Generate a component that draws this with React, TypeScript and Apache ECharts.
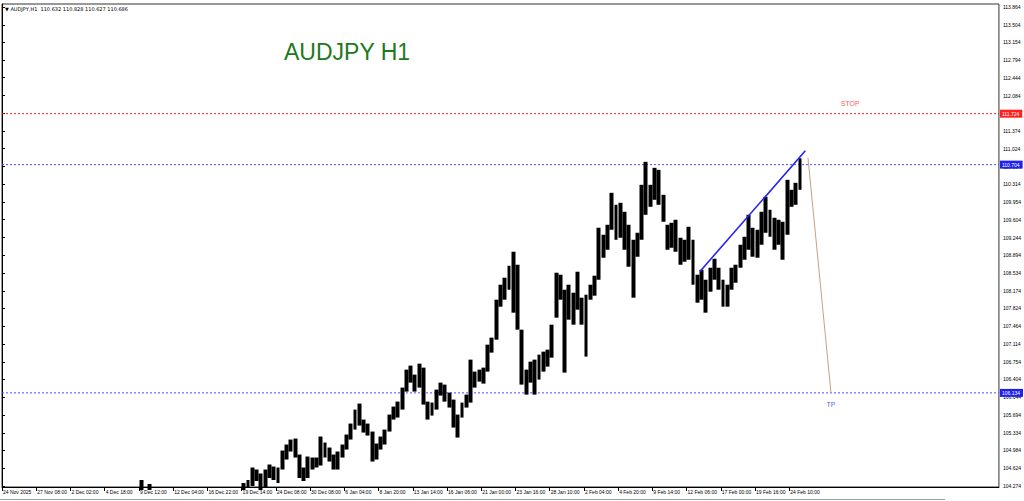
import React, { useEffect, useRef } from "react";
import * as echarts from "echarts";

// ---- data ----
const symbolTitle = "AUDJPY H1";
const headerText = "\u25BC AUDJPY,H1  110.632 110.828 110.627 110.686";

const xLabels = [
  "24 Nov 2025", "27 Nov 08:00", "2 Dec 02:00", "4 Dec 18:00", "9 Dec 12:00", "12 Dec 04:00",
  "16 Dec 22:00", "19 Dec 14:00", "24 Dec 08:00", "30 Dec 08:00", "6 Jan 04:00", "8 Jan 20:00",
  "13 Jan 14:00", "16 Jan 06:00", "21 Jan 00:00", "23 Jan 16:00", "28 Jan 10:00", "2 Feb 04:00",
  "4 Feb 20:00", "9 Feb 14:00", "12 Feb 06:00", "17 Feb 00:00", "19 Feb 16:00", "24 Feb 10:00",
];
const barsPerLabel = 64;
const barsPerBucket = 8;
const bucketCount = 233;
const firstBucket = 32;

const yTicks = [
  104.274, 104.624, 104.984, 105.334, 105.694, 106.044, 106.404, 106.754, 107.114, 107.464,
  107.824, 108.174, 108.534, 108.894, 109.244, 109.604, 109.954, 110.314, 110.664, 111.024,
  111.374, 111.734, 112.084, 112.444, 112.794, 113.154, 113.504, 113.864,
];

// highs / lows per bucket of 8 H1 bars, starting at bucket 32 (null = below the visible scale)
const highs = [
  104.39, null, 104.31, null, null, null, null, null, null, null, null, null, null, null, null, null,
  null, null, null, null, null, null, null, null,
  104.33, 104.39, 104.64, 104.60, 104.52, 104.60, 104.70, 104.66, 104.64, 104.98,
  105.10, 105.20, 105.22, 104.90, 104.64, 104.86, 104.84, 104.84, 105.26, 105.14,
  105.04, 104.90, 104.96, 105.10, 105.30, 105.52, 105.80, 105.92, 105.60, 105.52,
  105.36, 105.12, 105.26, 105.40, 105.70, 105.86, 105.96, 106.24, 106.60, 106.68,
  106.50, 106.72, 106.64, 105.96, 105.94, 106.20, 106.34, 106.30, 106.14, 106.00,
  105.70, 105.94, 106.10, 106.80, 106.56, 106.60, 106.64, 107.10, 107.24, 108.00,
  108.30, 108.44, 108.68, 108.96, 108.70, 107.40, 106.60, 106.76, 106.80, 106.90,
  106.96, 107.00, 107.50, 108.54, 108.50, 108.20, 108.30, 108.14, 108.56, 108.04,
  108.10, 108.30, 108.48, 109.44, 109.30, 109.50, 110.14, 109.90, 109.94, 109.76,
  109.50, 109.20, 109.34, 110.30, 110.76, 110.30, 110.64, 110.60, 110.10, 109.50,
  109.54, 109.60, 109.24, 109.20, 109.46, 109.20, 108.50, 108.60, 108.40, 108.64,
  108.82, 108.64, 108.40, 108.30, 108.64, 108.70, 109.10, 109.26, 109.70, 109.44,
  109.40, 109.76, 110.06, 109.80, 109.64, 109.60, 109.56, 110.40, 110.20, 110.34,
  110.83,
];
const lows = [
  104.19, null, 104.19, null, null, null, null, null, null, null, null, null, null, null, null, null,
  null, null, null, null, null, null, null, null,
  104.19, 104.23, 104.27, 104.37, 104.19, 104.23, 104.43, 104.39, 104.33, 104.60,
  104.80, 104.96, 104.84, 104.43, 104.37, 104.43, 104.60, 104.64, 104.68, 104.84,
  104.76, 104.60, 104.60, 104.84, 105.00, 105.20, 105.40, 105.48, 105.34, 105.28,
  104.76, 104.80, 105.00, 105.10, 105.36, 105.60, 105.64, 105.80, 106.16, 106.34,
  106.16, 106.24, 105.90, 105.60, 105.68, 105.80, 106.08, 105.96, 105.84, 105.44,
  105.24, 105.64, 105.84, 105.94, 106.24, 106.36, 106.32, 106.56, 106.94, 107.20,
  107.86, 108.00, 108.20, 107.74, 107.40, 106.30, 106.10, 106.34, 106.10, 106.40,
  106.56, 106.66, 106.84, 107.64, 108.00, 106.54, 107.60, 107.50, 107.80, 107.50,
  106.86, 108.00, 108.08, 108.40, 108.84, 109.00, 109.40, 109.20, 109.24, 109.00,
  108.66, 108.04, 108.86, 109.20, 109.70, 109.86, 110.00, 109.90, 109.56, 109.00,
  109.04, 108.96, 108.70, 108.76, 108.80, 108.30, 107.94, 108.00, 107.74, 108.16,
  108.40, 108.20, 107.86, 107.86, 108.20, 108.34, 108.64, 108.80, 109.00, 108.86,
  108.84, 109.10, 109.34, 109.26, 109.00, 109.10, 108.80, 109.30, 109.86, 109.90,
  110.20,
];

// horizontal levels
const levels = [
  { price: 111.724, line: "#ff1a1a", box: "#ff2020" },
  { price: 110.704, line: "#4d4dff", box: "#2020ee" },
  { price: 106.134, line: "#4d4dff", box: "#2020ee" },
];

// trend lines: [bar index, price]
const trendUp = [[1305, 108.565], [1502, 110.981]];
const projection = [[1507, 110.841], [1550, 106.134]];
const notes = [
  { text: "STOP", bar: 1586, price: 111.922, color: "#ff2a2a" },
  { text: "TP", bar: 1550, price: 105.896, color: "#3030ff" },
];

export default function App() {
  const ref = useRef<HTMLDivElement>(null);
  useEffect(() => {
    if (!ref.current) return;
    const chart = echarts.init(ref.current, null, { renderer: "svg" });
    const totalBars = bucketCount * barsPerBucket;
    const cats = Array.from({ length: bucketCount }, (_, i) => String(i));
    const candles = cats.map((_, i) => {
      const j = i - firstBucket;
      if (j < 0 || j >= highs.length || highs[j] == null) return "-";
      return [lows[j], highs[j], lows[j], highs[j]];
    });
    const labelBars = xLabels.map((_, i) => i * barsPerLabel);
    const font = "Liberation Sans, Arial, sans-serif";

    const levelSeries = levels.map((lv) => ({
      type: "line",
      xAxisIndex: 1,
      data: [[0, lv.price], [totalBars, lv.price]],
      showSymbol: false,
      silent: true,
      z: 3,
      lineStyle: { color: lv.line, type: [2, 2], width: 1 },
      endLabel: {
        show: true,
        formatter: () => lv.price.toFixed(3),
        color: "#fff",
        backgroundColor: lv.box,
        fontSize: 5,
        fontFamily: font,
        padding: [2, 3, 1, 2],
        distance: 1,
      },
    }));

    chart.setOption({
      animation: false,
      backgroundColor: "#ffffff",
      title: {
        text: symbolTitle,
        left: 279,
        top: 35,
        textStyle: { color: "#217821", fontSize: 23, fontWeight: "normal", fontFamily: font },
      },
      graphic: [
        {
          type: "text",
          left: 5,
          top: 6,
          style: { text: headerText, fill: "#000", fontSize: 5, fontFamily: "DejaVu Sans, sans-serif" },
        },
        {
          type: "line",
          shape: { x1: 0, y1: 499.5, x2: 945, y2: 499.5 },
          style: { stroke: "#a0a0a0", lineWidth: 1 },
        },
      ],
      grid: { left: 2, right: 23, top: 4, bottom: 14, show: true, borderColor: "#333", borderWidth: 1 },
      xAxis: [
        { type: "category", data: cats, show: false, boundaryGap: true },
        {
          type: "value",
          min: 0,
          max: totalBars,
          position: "bottom",
          splitLine: { show: false },
          axisLine: { show: true, lineStyle: { color: "#000" } },
          axisTick: { show: true, length: 4, customValues: labelBars, lineStyle: { color: "#000" } },
          axisLabel: {
            customValues: labelBars,
            formatter: (v: number) => xLabels[Math.round(v / barsPerLabel)] ?? "",
            fontSize: 5,
            color: "#000",
            fontFamily: font,
            align: "left",
            margin: 2,
            padding: [0, 0, 0, 1],
          },
        },
      ],
      yAxis: {
        type: "value",
        position: "right",
        min: 104.25,
        max: 113.92,
        scale: true,
        splitLine: { show: false },
        axisLine: { show: true, lineStyle: { color: "#000" } },
        axisTick: { show: true, length: 3, customValues: yTicks, lineStyle: { color: "#000" } },
        axisLabel: {
          customValues: yTicks,
          formatter: (v: number) => v.toFixed(3),
          fontSize: 5,
          color: "#000",
          fontFamily: font,
          margin: 4,
        },
      },
      series: [
        ...levelSeries,
        {
          type: "candlestick",
          xAxisIndex: 0,
          data: candles,
          barWidth: 4.4,
          clip: true,
          z: 4,
          itemStyle: { color: "#000", color0: "#000", borderColor: "#000", borderColor0: "#000", borderWidth: 0 },
        },
        {
          type: "line",
          xAxisIndex: 1,
          data: trendUp,
          showSymbol: false,
          lineStyle: { color: "#2424f0", width: 1.6 },
          z: 5,
        },
        {
          type: "line",
          xAxisIndex: 1,
          data: projection,
          showSymbol: false,
          lineStyle: { color: "#c8a080", width: 1 },
          z: 5,
        },
        {
          type: "scatter",
          xAxisIndex: 1,
          symbolSize: 1,
          itemStyle: { color: "transparent" },
          data: notes.map((n) => ({
            value: [n.bar, n.price],
            label: {
              show: true,
              position: "inside",
              formatter: n.text,
              color: n.color,
              fontSize: 7,
              fontFamily: font,
            },
          })),
        },
      ],
    });
    return () => chart.dispose();
  }, []);
  return (
    <div
      ref={ref}
      style={{ position: "fixed", left: 0, top: 0, width: 1024, height: 501, background: "#fff" }}
    />
  );
}
